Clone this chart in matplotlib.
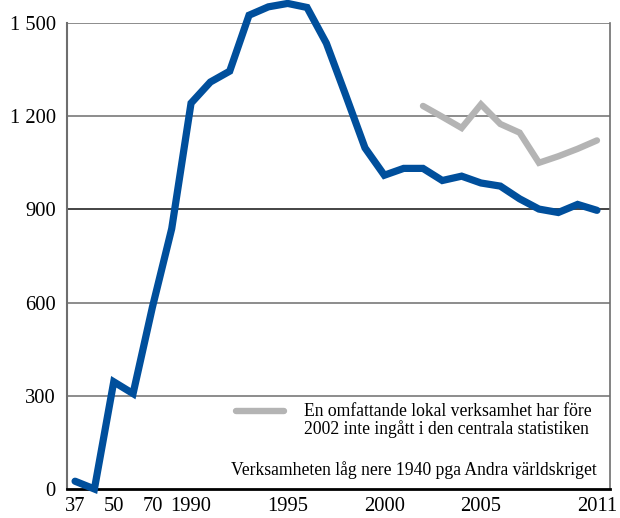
import matplotlib
matplotlib.use("Agg")
import matplotlib.pyplot as plt

# Data
x_labels_all = ["1937", "1940", "1950", "1960", "1970", "1980", "1990", "1991", "1992", "1993",
                "1994", "1995", "1996", "1997", "1998", "1999", "2000", "2001", "2002", "2003",
                "2004", "2005", "2006", "2007", "2008", "2009", "2010", "2011"]
blue_values = [25, 0, 345, 307, 585, 838, 1242, 1310, 1345, 1525,
               1552, 1563, 1550, 1435, 1268, 1098, 1010, 1032, 1032, 993,
               1007, 985, 975, 934, 901, 890, 916, 897]
gray_start = 18
gray_values = [1233, 1198, 1162, 1238, 1175, 1147, 1050, 1071, 1095, 1122]
tick_idx = [0, 2, 4, 6, 11, 16, 21, 27]
tick_labels = ["37", "50", "70", "1990", "1995", "2000", "2005", "2011"]
y_ticks = [0, 300, 600, 900, 1200, 1500]
y_tick_labels = ["0", "300", "600", "900", "1 200", "1 500"]
legend_text = "En omfattande lokal verksamhet har före\n2002 inte ingått i den centrala statistiken"
note_text = "Verksamheten låg nere 1940 pga Andra världskriget"

plt.rcParams['font.family'] = ['Liberation Serif', 'DejaVu Serif']

fig = plt.figure(figsize=(6.2, 5.18), dpi=100)
ax = fig.add_axes([0.108, 0.056, 0.876, 0.8996])

xs = list(range(len(blue_values)))
gx = list(range(gray_start, gray_start + len(gray_values)))

for yv in y_ticks[1:]:
    ax.axhline(yv, color='#111111' if yv == 900 else '#6e6e6e', lw=1.1, zorder=1)

ax.plot(gx, gray_values, color='#b4b4b4', lw=4.6, solid_capstyle='round',
        solid_joinstyle='miter', clip_on=False, zorder=3)
ax.plot(xs, blue_values, color='#004f9c', lw=5.2, solid_capstyle='round',
        solid_joinstyle='miter', clip_on=False, zorder=4)

ax.set_xlim(-0.42, 27.68)
ax.set_ylim(0, 1500)
ax.set_xticks(tick_idx)
ax.set_xticklabels(tick_labels)
ax.set_yticks(y_ticks)
ax.set_yticklabels(y_tick_labels)
ax.tick_params(axis='both', length=0, labelsize=14.8, colors='black')
ax.tick_params(axis='x', pad=6)
ax.tick_params(axis='y', pad=8)

ax.spines['top'].set_visible(False)
ax.spines['left'].set_color('#6e6e6e')
ax.spines['left'].set_linewidth(1.5)
ax.spines['right'].set_color('#6e6e6e')
ax.spines['right'].set_linewidth(1.2)
ax.spines['bottom'].set_color('black')
ax.spines['bottom'].set_linewidth(2)

# legend line + text
ax.plot([8.3, 10.8], [250, 250], color='#b4b4b4', lw=4.6, solid_capstyle='round', zorder=3)
ax.text(11.85, 220, legend_text, fontsize=12.7, va='center', ha='left',
        linespacing=1.0)
ax.text(27.0, 60, note_text, fontsize=12.7, va='center', ha='right')

fig.savefig("out.png", dpi=100)
